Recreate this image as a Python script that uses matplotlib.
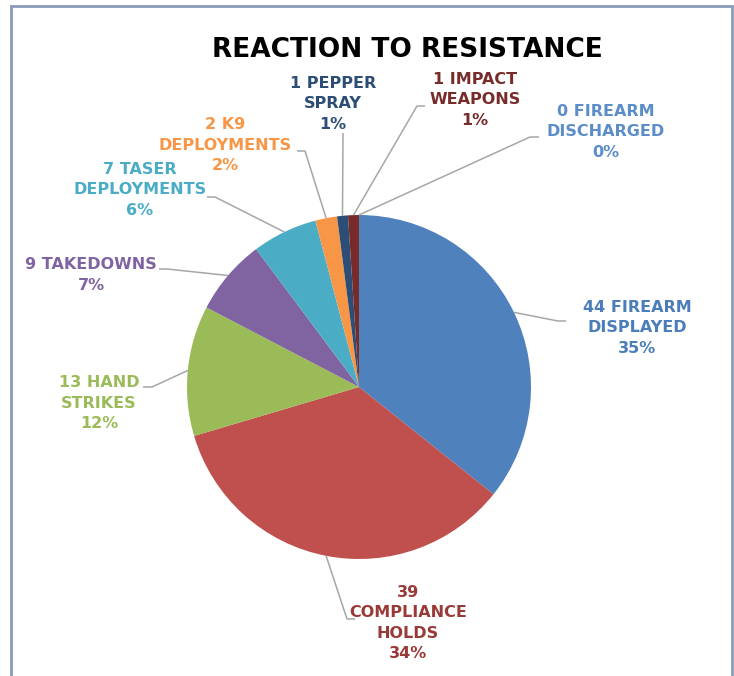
import numpy as np
import matplotlib
matplotlib.use("Agg")
import matplotlib.pyplot as plt
from matplotlib.patches import Rectangle

# data
categories = ["FIREARM DISPLAYED", "COMPLIANCE HOLDS", "HAND STRIKES", "TAKEDOWNS",
              "TASER DEPLOYMENTS", "K9 DEPLOYMENTS", "PEPPER SPRAY", "IMPACT WEAPONS",
              "FIREARM DISCHARGED"]
counts = [44, 39, 13, 9, 7, 2, 1, 1, 0]
percents = [35, 34, 12, 7, 6, 2, 1, 1, 0]
# label text as wrapped in the chart
label_texts = ["44 FIREARM\nDISPLAYED", "39\nCOMPLIANCE\nHOLDS", "13 HAND\nSTRIKES",
               "9 TAKEDOWNS", "7 TASER\nDEPLOYMENTS", "2 K9\nDEPLOYMENTS",
               "1 PEPPER\nSPRAY", "1 IMPACT\nWEAPONS", "0 FIREARM\nDISCHARGED"]

wedge_colors = ["#4F81BD", "#C0504D", "#9BBB59", "#8064A2", "#4BACC6",
                "#F79646", "#2C4D75", "#772C2A", "#5B8DC9"]
label_colors = ["#4A7DBA", "#983A38", "#9BBB59", "#8064A2", "#4BACC6",
                "#F79646", "#2C4D75", "#772C2A", "#5B8DC9"]

W, H = 734, 676
fig = plt.figure(figsize=(W / 100, H / 100), dpi=100)
ax = fig.add_axes([0, 0, 1, 1])

# pie centre / radius in pixel units (y up)
cx, cy, r = 359, H - 387, 172
wedges, _ = ax.pie(percents, colors=wedge_colors, startangle=90, counterclock=False,
                   center=(cx, cy), radius=r, wedgeprops=dict(linewidth=0))
ax.set_xlim(0, W)
ax.set_ylim(0, H)
ax.set_aspect("equal")
ax.axis("off")

# label layout (image pixel coords): text centre, leader elbow, leader end
label_xy = [(637, 328), (408, 623), (99, 403), (91, 275), (140, 190),
            (225, 145), (333, 104), (475, 100), (606, 132)]
elbows = [(558, 321), (347, 619), (152, 387), (167, 269), (215, 197),
          (305, 151), (343, 133), (417, 106), (530, 137)]
ends = [(566, 321), (355, 619), (143, 387), (159, 269), (207, 197),
        (297, 151), (343, 133), (425, 106), (539, 137)]

for i, w in enumerate(wedges):
    mid = np.deg2rad((w.theta1 + w.theta2) / 2)
    sx, sy = cx + r * np.cos(mid), cy + r * np.sin(mid)
    ex, ey = elbows[i]
    fx, fy = ends[i]
    ax.plot([sx, ex, fx], [sy, H - ey, H - fy], color="#A6A6A6", lw=1.1,
            solid_capstyle="butt", zorder=1)
    txt = f"{label_texts[i]}\n{percents[i]}%"
    lx, ly = label_xy[i]
    ax.text(lx, H - ly, txt, ha="center", va="center", multialignment="center",
            fontsize=11.5, fontweight="bold", color=label_colors[i],
            family="DejaVu Sans", linespacing=1.45)

ax.text(407, H - 50, "REACTION TO RESISTANCE", ha="center", va="center",
        fontsize=19, fontweight="bold", color="black", family="DejaVu Sans")

# outer frame
ax.add_patch(Rectangle((11, -10), 721, H - 6 + 10, fill=False, edgecolor="#8A9BB8",
                       lw=2, clip_on=False))

fig.savefig("out.png", dpi=100)
